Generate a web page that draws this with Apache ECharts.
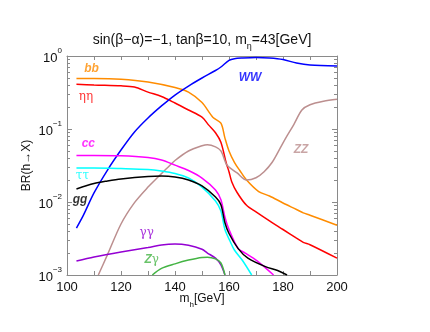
<!DOCTYPE html>
<html><head><meta charset="utf-8">
<script src="https://cdn.jsdelivr.net/npm/echarts@6/dist/echarts.min.js"></script>
<style>html,body{margin:0;padding:0;background:#fff}#c{width:430px;height:332px}</style>
</head><body><div id="c"></div>
<script>
// ---- data (m_h in GeV, branching ratios) ----
const mBB   = [103.5,110,120,130,140,145,150,154,157,158.5,160,162,164,166.5,171,175,180,185,187.5,190,200];
const brBB  = [0.49,0.49,0.48,0.44,0.37,0.32,0.23,0.145,0.12,0.075,0.05,0.035,0.027,0.020,0.0139,0.0121,0.0097,0.0079,0.0071,0.0066,0.0048];
const mEE   = [103.5,110,120,125,130,135,140,145,150,152.5,155,157,159,160,161,163,166.5,170,175,180,185,187.5,190,200];
const brEE  = [0.41,0.40,0.39,0.375,0.32,0.279,0.227,0.182,0.145,0.113,0.089,0.066,0.034,0.026,0.019,0.0135,0.0090,0.0073,0.0055,0.0042,0.0032,0.0028,0.0026,0.0017];
const mWW   = [103.5,106,110,115,120,125,130,135,140,145,150,155,157,160,162,165,170,175,180,185,190,200];
const brWW  = [0.0044,0.0065,0.0133,0.0274,0.0515,0.091,0.1415,0.207,0.292,0.388,0.50,0.633,0.707,0.87,0.92,0.94,0.955,0.94,0.895,0.80,0.75,0.73];
const mZZ   = [111.6,115,120,125,130,134,137,140,145,150,152,155,157,159,160,163,166.5,170,173,176,179,181,184,187,190,195,200];
const brZZ  = [0.001,0.0019,0.0050,0.0098,0.0160,0.0225,0.029,0.037,0.050,0.059,0.061,0.057,0.050,0.033,0.030,0.025,0.020,0.0215,0.026,0.035,0.055,0.075,0.115,0.182,0.215,0.24,0.255];
const mCC   = [103.5,110,120,130,135,140,145,150,155,157,158.5,160,163.4,166,169,172,176.5];
const brCC  = [0.0434,0.0434,0.043,0.0407,0.0376,0.032,0.027,0.0213,0.0146,0.0107,0.0062,0.0042,0.0023,0.002,0.0017,0.0014,0.001];
const mTT   = [103.5,110,120,130,135,140,145,150,155,157,158.5,160.4,162,165,168.4];
const brTT  = [0.0292,0.0292,0.0287,0.0279,0.0266,0.0246,0.0213,0.016,0.0103,0.0075,0.0042,0.0029,0.0022,0.00158,0.001];
const mGG   = [103.5,110,115,120,130,135,140,145,150,155,157,158.5,160,163.4,167,173.5,178,181.5];
const brGG  = [0.0151,0.0179,0.0194,0.0207,0.0224,0.0227,0.022,0.020,0.0166,0.0117,0.0092,0.0052,0.0037,0.0023,0.0017,0.0013,0.00115,0.001];
const mAA   = [103.5,110,120,130,135,140,145,150,152,155,157,158.5];
const brAA  = [0.00156,0.00177,0.00207,0.00238,0.00258,0.00266,0.00255,0.00225,0.002,0.0017,0.00138,0.001];
const mZA   = [131.6,135,140,145,150,152,155,157,158.5];
const brZA  = [0.001,0.00123,0.00142,0.0016,0.00174,0.00175,0.00166,0.00146,0.001];

const xTickStep = 20;
const yExponents = [0,-1,-2,-3];

// curve name labels: [text, m_h, BR]
const curveLabels = [
  ['bb',109.1,0.68],['ηη',107.0,0.272],['cc',107.9,0.0623],['ττ',105.7,0.0225],['gg',104.8,0.01065],
  ['WW',167.8,0.511],['ZZ',186.7,0.0515],['γγ',129.5,0.00373],['Zγ',131.4,0.0016]
];

const FONT = 'Liberation Sans, Arial, sans-serif';
const curves = [
  {name:'bb', x:mBB, y:brBB, color:'#ff8c00'},
  {name:'ηη', x:mEE, y:brEE, color:'#ff0000'},
  {name:'WW', x:mWW, y:brWW, color:'#0000ff'},
  {name:'ZZ', x:mZZ, y:brZZ, color:'#bc8f8f'},
  {name:'cc', x:mCC, y:brCC, color:'#ff00ff'},
  {name:'ττ', x:mTT, y:brTT, color:'#00ffff'},
  {name:'gg', x:mGG, y:brGG, color:'#000000'},
  {name:'γγ', x:mAA, y:brAA, color:'#9400d3'},
  {name:'Zγ', x:mZA, y:brZA, color:'#44b444'}
];
const colorOf = {}; curves.forEach(c=>colorOf[c.name]=c.color);
const boldNames = {bb:1,cc:1,gg:1,WW:1,ZZ:1};

const series = curves.map(c=>({
  name:c.name, type:'line', xAxisIndex:0, yAxisIndex:0,
  data:c.x.map((m,i)=>[m,c.y[i]]),
  symbol:'none', smooth:0.3, clip:true,
  lineStyle:{color:c.color, width:1.5}, itemStyle:{color:c.color},
  animation:false, silent:true
}));
series.push({
  type:'scatter', xAxisIndex:0, yAxisIndex:0, symbolSize:0, silent:true, animation:false,
  data: curveLabels.map(l=>{
    const t=l[0];
    let fmt;
    if (t==='Zγ') { fmt='{i|Z}{n|γ}'; }
    else if (boldNames[t]) { fmt='{i|'+t+'}'; }
    else { fmt='{n|'+t+'}'; }
    return {value:[l[1],l[2]], label:{show:true, position:'inside', formatter:fmt,
      rich:{i:{fontFamily:FONT,fontSize:12,fontStyle:'italic',fontWeight:'bold',color:colorOf[t]},
            n:{fontFamily:'DejaVu Serif, serif',fontSize:12,color:colorOf[t]}}}};
  })
});

const axisGray = '#8a8a8a';
const chart = echarts.init(document.getElementById('c'), null, {renderer:'canvas'});
const baseX = {type:'value', min:100, max:200, interval:xTickStep, splitLine:{show:false},
  axisLine:{show:true,onZero:false,lineStyle:{color:axisGray,width:1}},
  axisTick:{show:true,inside:true,length:4,lineStyle:{color:axisGray}},
  minorTick:{show:true,splitNumber:2,length:4,lineStyle:{color:axisGray}}};
const baseY = {type:'log', logBase:10, min:0.001, max:1, interval:1, splitLine:{show:false},
  axisLine:{show:true,onZero:false,lineStyle:{color:axisGray,width:1}},
  axisTick:{show:true,inside:true,length:5,lineStyle:{color:axisGray}},
  minorTick:{show:false}};
chart.setOption({
  animation:false,
  backgroundColor:'#fff',
  grid:{left:67,right:93,top:56,bottom:57,containLabel:false},
  xAxis:[
    Object.assign({}, baseX, {position:'bottom',
      axisLabel:{show:true,color:'#111',fontSize:13,fontFamily:FONT,margin:6},
      name:'{a|m}{s|h}{a|[GeV]}', nameLocation:'middle', nameGap:18, nameMoveOverlap:false,
      nameTextStyle:{rich:{a:{fontFamily:FONT,fontSize:12,color:'#111',lineHeight:16,verticalAlign:'top'},
                           s:{fontFamily:FONT,fontSize:8,color:'#111',lineHeight:8,verticalAlign:'bottom'}}}}),
    Object.assign({}, baseX, {position:'top', axisLabel:{show:false},
      name:'{a|sin(β−α)=−1, tanβ=10, m}{s|η}{a|=43[GeV]}', nameLocation:'middle', nameGap:5, nameMoveOverlap:false,
      nameTextStyle:{rich:{a:{fontFamily:FONT,fontSize:14,color:'#111',lineHeight:18,verticalAlign:'top'},
                           s:{fontFamily:FONT,fontSize:9,color:'#111',lineHeight:4,verticalAlign:'bottom'}}}})
  ],
  yAxis:[
    Object.assign({}, baseY, {position:'left',
      axisLabel:{show:true,margin:5,formatter:function(v){const e=Math.round(Math.log10(v));return '{b|10}{s|'+(e<0?'−'+(-e):e)+'}';},
        rich:{b:{fontFamily:FONT,fontSize:13,color:'#111',lineHeight:18,verticalAlign:'bottom'},
              s:{fontFamily:FONT,fontSize:8,color:'#111',lineHeight:8,verticalAlign:'top'}}},
      name:'BR(h→X)', nameLocation:'middle', nameGap:34, nameRotate:90, nameMoveOverlap:false,
      nameTextStyle:{fontFamily:FONT,fontSize:12,color:'#111'}}),
    Object.assign({}, baseY, {position:'right', axisLabel:{show:false}})
  ],
  series:series
});

// log-spaced minor ticks (2..9 within each decade) on left and right frame
const g=[];
const xl=chart.convertToPixel({xAxisIndex:0},100), xr=chart.convertToPixel({xAxisIndex:0},200);
for (let e=-3;e<0;e++) for (let k=2;k<=9;k++){
  const y=Math.round(chart.convertToPixel({yAxisIndex:0},k*Math.pow(10,e)))+0.5;
  g.push({type:'line',silent:true,shape:{x1:xl,y1:y,x2:xl+3,y2:y},style:{stroke:axisGray,lineWidth:1}});
  g.push({type:'line',silent:true,shape:{x1:xr-3,y1:y,x2:xr,y2:y},style:{stroke:axisGray,lineWidth:1}});
}
chart.setOption({graphic:g});
</script></body></html>
